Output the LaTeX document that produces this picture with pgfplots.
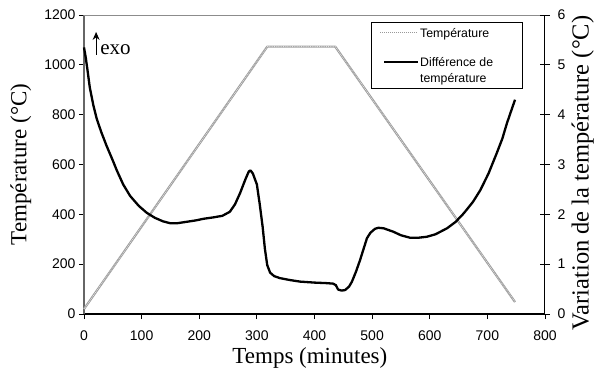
\documentclass[border=0pt]{standalone}
\usepackage{fontspec}
\setmainfont{Liberation Serif}
\newfontfamily\arial{Liberation Sans}
\usepackage{pgfplots}
\usepackage{pgfplotstable}
\usetikzlibrary{arrows.meta}
\pgfplotsset{compat=1.18}
\newcommand\legfont{\arial\fontsize{12.3bp}{15bp}\selectfont}

\pgfplotstableread{
t T
0 20
318 1073
436 1073
748 48
}\temptable

\pgfplotstableread{
t d
0 5.35
3 5.15
6 4.9
10 4.55
16 4.2
22 3.92
30 3.65
39 3.38
50 3.08
57 2.88
68 2.6
80 2.37
95 2.17
109 2.03
123 1.93
137 1.86
150 1.82
161 1.82
178 1.85
195 1.88
207 1.91
225 1.94
240 1.97
253 2.05
262 2.2
271 2.43
280 2.7
286 2.86
289 2.88
293 2.82
300 2.6
305 2.2
310 1.75
314 1.3
318 0.98
323 0.83
330 0.76
340 0.72
358 0.68
375 0.65
400 0.63
420 0.62
432 0.61
437 0.58
441 0.49
447 0.47
453 0.48
460 0.55
465 0.65
472 0.85
479 1.08
485 1.3
491 1.52
497 1.63
505 1.71
511 1.73
520 1.72
537 1.65
550 1.58
566 1.53
580 1.53
595 1.55
610 1.6
630 1.72
645 1.85
659 2.02
675 2.25
688 2.49
702 2.82
716 3.22
726 3.52
734 3.83
742 4.1
748 4.3
}\difftable

\begin{document}
\begin{tikzpicture}
\begin{axis}[
  at={(0,0)}, anchor=south west,
  scale only axis, width=461bp, height=299bp,
  xmin=0, xmax=800, ymin=0, ymax=1200,
  xtick={0,100,...,800}, ytick={0,200,...,1200},
  axis x line*=bottom, axis y line*=left,
  tick align=outside, major tick length=5bp,
  x axis line style={black, line width=1.2bp},
  y axis line style={black!60, line width=1.8bp},
  tick style={black, line width=0.8bp},
  ticklabel style={font=\arial\fontsize{14bp}{16bp}\selectfont},
  xticklabel style={yshift=-8bp},
  /pgf/number format/assume math mode=true,
  /pgf/number format/1000 sep={},
  xlabel={Temps (minutes)},
  ylabel={Température (°C)},
  label style={font=\fontsize{23bp}{26bp}\selectfont},
  xlabel style={at={(axis description cs:0.49,-0.147)}, anchor=center},
  ylabel style={at={(axis description cs:-0.137,0.5)}, anchor=center, rotate=0},
  clip=false,
]
\draw[black!45, line width=0.8bp] (rel axis cs:0,1) -- (rel axis cs:1,1);
\addplot[black!38, line width=2.2bp, line join=round] table[x=t, y=T] {\temptable};
\addplot[black!12, line width=0.8bp, densely dotted] table[x=t, y=T] {\temptable};
\draw[-{Stealth[length=8bp,width=7bp]}, line width=1.1bp] (axis cs:21,1040) -- (axis cs:21,1132);
\node[anchor=base west, font=\fontsize{21bp}{24bp}\selectfont, inner sep=0pt] at (axis cs:28,1040) {exo};
\end{axis}
\begin{axis}[
  at={(0,0)}, anchor=south west,
  scale only axis, width=461bp, height=299bp,
  xmin=0, xmax=800, ymin=0, ymax=6,
  ytick={0,1,...,6},
  axis x line=none, axis y line*=right,
  tick align=center, major tick length=10bp,
  y axis line style={black, line width=1bp},
  tick style={black, line width=0.8bp},
  ticklabel style={font=\arial\fontsize{14bp}{16bp}\selectfont},
  yticklabel style={xshift=4bp},
  /pgf/number format/assume math mode=true,
  ylabel={Variation de la température (°C)},
  label style={font=\fontsize{24.5bp}{27bp}\selectfont},
  ylabel style={at={(axis description cs:1.082,0.4716)}, anchor=center},
  clip=false,
]
\addplot[black, line width=2.3bp, line join=round] table[x=t, y=d] {\difftable};
% legend box
\coordinate (L) at (rel axis cs:0.6226,0.9766);
\fill[white] (L) rectangle ++(151bp,-66bp);
\draw[black, line width=0.9bp] (L) rectangle ++(151bp,-66bp);
\draw[black!40, line width=1bp, densely dotted] ([shift={(9bp,-11bp)}]L) -- ++(37bp,0);
\draw[black, line width=1.3bp] ([shift={(13bp,-40bp)}]L) -- ++(34bp,0);
\node[anchor=base west, inner sep=0pt, font=\legfont] at ([shift={(49bp,-15.4bp)}]L) {Température};
\node[anchor=base west, inner sep=0pt, font=\legfont] at ([shift={(49bp,-44.4bp)}]L) {Différence de};
\node[anchor=base west, inner sep=0pt, font=\legfont] at ([shift={(49bp,-60.4bp)}]L) {température};
\end{axis}
\pgfresetboundingbox
\path (-84bp,-58bp) rectangle (514bp,314bp);
\end{tikzpicture}
\end{document}
